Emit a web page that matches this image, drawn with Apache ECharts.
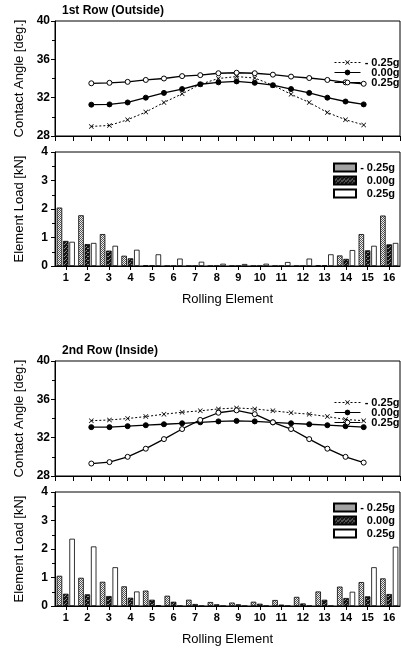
<!DOCTYPE html>
<html>
<head>
<meta charset="utf-8">
<script src="https://cdn.jsdelivr.net/npm/echarts@6/dist/echarts.min.js"></script>
<style>
html,body{margin:0;padding:0;background:#fff;}
#chart{width:401px;height:649px;}
</style>
</head>
<body>
<div id="chart"></div>
<script>
// ---------- data ----------
const elements = [1,2,3,4,5,6,7,8,9,10,11,12,13,14,15,16];
const seriesLabels = ['- 0.25g', '0.00g', '0.25g'];
const titles = ['1st Row (Outside)', '2nd Row (Inside)'];
const angleTicks = [28, 32, 36, 40];
const loadTicks = [0, 1, 2, 3, 4];

// 1st row contact angle [deg.]
const row1AngleM025 = [29.0, 29.1, 29.7, 30.5, 31.5, 32.4, 33.4, 34.0, 34.2, 34.05, 33.3, 32.35, 31.5, 30.45, 29.7, 29.15];
const row1Angle000  = [31.27, 31.3, 31.5, 32.0, 32.5, 32.9, 33.4, 33.6, 33.7, 33.55, 33.3, 32.9, 32.5, 32.0, 31.6, 31.3];
const row1Angle025  = [33.5, 33.55, 33.65, 33.85, 34.0, 34.25, 34.35, 34.55, 34.6, 34.55, 34.4, 34.2, 34.05, 33.85, 33.6, 33.45];
// 1st row element load [kN]
const row1LoadM025 = [2.05, 1.78, 1.12, 0.36, 0.02, 0.0, 0.0, 0.0, 0.0, 0.0, 0.0, 0.0, 0.02, 0.37, 1.12, 1.77];
const row1Load000  = [0.88, 0.77, 0.54, 0.27, 0.01, 0.0, 0.0, 0.0, 0.0, 0.0, 0.0, 0.0, 0.02, 0.25, 0.55, 0.76];
const row1Load025  = [0.85, 0.81, 0.71, 0.57, 0.41, 0.26, 0.15, 0.08, 0.07, 0.08, 0.14, 0.26, 0.41, 0.56, 0.71, 0.81];

// 2nd row contact angle [deg.]
const row2AngleM025 = [33.77, 33.85, 34.0, 34.2, 34.45, 34.65, 34.8, 35.0, 35.1, 35.0, 34.8, 34.6, 34.45, 34.2, 33.9, 33.77];
const row2Angle000  = [33.1, 33.1, 33.2, 33.3, 33.4, 33.5, 33.6, 33.7, 33.75, 33.7, 33.6, 33.5, 33.4, 33.3, 33.2, 33.1];
const row2Angle025  = [29.3, 29.45, 30.0, 30.85, 31.85, 32.9, 33.85, 34.6, 34.85, 34.45, 33.6, 32.9, 31.85, 30.85, 30.0, 29.4];
// 2nd row element load [kN]
const row2LoadM025 = [1.06, 0.99, 0.85, 0.69, 0.54, 0.36, 0.22, 0.14, 0.12, 0.15, 0.21, 0.32, 0.51, 0.68, 0.84, 0.97];
const row2Load000  = [0.43, 0.41, 0.35, 0.29, 0.22, 0.15, 0.07, 0.06, 0.06, 0.08, 0.05, 0.09, 0.22, 0.28, 0.34, 0.42];
const row2Load025  = [2.36, 2.09, 1.36, 0.51, 0.02, 0.0, 0.0, 0.0, 0.0, 0.0, 0.0, 0.0, 0.0, 0.50, 1.36, 2.08];

// ---------- styling helpers ----------
const FONT = 'Liberation Sans, Arial, sans-serif';
function makePattern(bg, fg, cells) {
  const c = document.createElement('canvas');
  c.width = 4; c.height = 4;
  const ctx = c.getContext('2d');
  ctx.fillStyle = bg; ctx.fillRect(0, 0, 4, 4);
  ctx.fillStyle = fg;
  cells.forEach(p => ctx.fillRect(p[0], p[1], 1, 1));
  return { image: c, repeat: 'repeat' };
}
const lightPat = makePattern('#f0f0f0', '#555', [[0,0],[2,0],[1,1],[3,1],[0,2],[2,2],[1,3],[3,3]]);
const darkPat = makePattern('#151515', '#8a8a8a', [[0,0],[2,2],[3,0],[1,3]]);
const xSymbol = 'path://M0,1L1,0L5,4L9,0L10,1L6,5L10,9L9,10L5,6L1,10L0,9L4,5Z';

const pairs = arr => elements.map((e, i) => [e, arr[i]]);
const catLabels = elements.map(String);

const gridTops = [21, 152, 361, 492];
const grids = gridTops.map((t, i) => ({
  left: 55, width: 345, top: t, height: (i % 2 === 0) ? 115 : 114,
  show: true, borderColor: '#000', borderWidth: 1, backgroundColor: 'transparent'
}));

const axisLineStyle = { show: true, onZero: false, lineStyle: { color: '#000', width: 1 } };
const labelStyle = { color: '#000', fontSize: 11, fontWeight: 'bold', fontFamily: FONT };
const yLabelStyle = { color: '#000', fontSize: 12, fontWeight: 'bold', fontFamily: FONT };
const nameStyle = { color: '#000', fontSize: 13, fontFamily: FONT };

function lineX(gi) {
  return {
    type: 'value', gridIndex: gi, min: -1, max: 18, interval: 1,
    axisLine: axisLineStyle,
    axisTick: { show: true, length: 5, lineStyle: { color: '#000' } },
    axisLabel: { show: false }, splitLine: { show: false }
  };
}
function barX(gi) {
  return {
    type: 'category', gridIndex: gi, data: catLabels, boundaryGap: true,
    axisLine: axisLineStyle,
    axisTick: { show: true, alignWithLabel: true, length: 4, lineStyle: { color: '#000' } },
    axisLabel: Object.assign({ margin: 6 }, labelStyle),
    name: 'Rolling Element', nameLocation: 'middle', nameGap: 27, nameTextStyle: nameStyle,
    splitLine: { show: false }
  };
}
function angleY(gi) {
  return {
    type: 'value', gridIndex: gi, min: angleTicks[0], max: angleTicks[angleTicks.length - 1],
    interval: angleTicks[1] - angleTicks[0],
    axisLine: axisLineStyle,
    axisTick: { show: true, length: 4, lineStyle: { color: '#000' } },
    minorTick: { show: true, splitNumber: 2, length: 3, lineStyle: { color: '#000' } },
    axisLabel: Object.assign({ margin: 5 }, yLabelStyle),
    splitLine: { show: false },
    name: 'Contact Angle [deg.]', nameLocation: 'middle', nameGap: 29, nameTextStyle: nameStyle
  };
}
function loadY(gi) {
  return {
    type: 'value', gridIndex: gi, min: loadTicks[0], max: loadTicks[loadTicks.length - 1],
    interval: loadTicks[1] - loadTicks[0],
    axisLine: axisLineStyle,
    axisTick: { show: true, length: 4, lineStyle: { color: '#000' } },
    minorTick: { show: true, splitNumber: 2, length: 3, lineStyle: { color: '#000' } },
    axisLabel: Object.assign({ margin: 7 }, yLabelStyle),
    splitLine: { show: false },
    name: 'Element Load [kN]', nameLocation: 'middle', nameGap: 29, nameTextStyle: nameStyle
  };
}

const lineNames = ['L' + seriesLabels[0], 'L' + seriesLabels[1], 'L' + seriesLabels[2]];
const barNames = ['B' + seriesLabels[0], 'B' + seriesLabels[1], 'B' + seriesLabels[2]];

function lineSeries(gi, m025, z000, p025) {
  return [
    { name: lineNames[0], type: 'line', xAxisIndex: gi, yAxisIndex: gi, data: pairs(m025),
      symbol: xSymbol, symbolSize: 5, showAllSymbol: true,
      lineStyle: { color: '#000', width: 1, type: [2, 2] },
      itemStyle: { color: '#000' }, animation: false },
    { name: lineNames[1], type: 'line', xAxisIndex: gi, yAxisIndex: gi, data: pairs(z000),
      symbol: 'circle', symbolSize: 5, showAllSymbol: true,
      lineStyle: { color: '#000', width: 1.3 },
      itemStyle: { color: '#000', borderColor: '#000', borderWidth: 1 }, animation: false },
    { name: lineNames[2], type: 'line', xAxisIndex: gi, yAxisIndex: gi, data: pairs(p025),
      symbol: 'circle', symbolSize: 5, showAllSymbol: true,
      lineStyle: { color: '#000', width: 1.3 },
      itemStyle: { color: '#fff', borderColor: '#000', borderWidth: 1 }, animation: false }
  ];
}
function barSeries(gi, m025, z000, p025) {
  const common = { type: 'bar', xAxisIndex: gi, yAxisIndex: gi, barWidth: 5.5, barGap: '15%', animation: false };
  return [
    Object.assign({ name: barNames[0], data: m025, itemStyle: { color: lightPat, borderColor: '#000', borderWidth: 0.8 } }, common),
    Object.assign({ name: barNames[1], data: z000, itemStyle: { color: darkPat, borderColor: '#000', borderWidth: 0.8 } }, common),
    Object.assign({ name: barNames[2], data: p025, itemStyle: { color: '#fff', borderColor: '#000', borderWidth: 0.8 } }, common)
  ];
}

const legendText = {
  fontSize: 11, fontWeight: 'bold', fontFamily: FONT, color: '#000', lineHeight: 9,
  rich: { t: { width: 34, align: 'right', fontSize: 11, fontWeight: 'bold', fontFamily: FONT, color: '#000', lineHeight: 9 } }
};
const legendFmt = name => '{t|' + name.slice(1) + '}';

function lineLegend(top) {
  return { data: lineNames, orient: 'vertical', left: 334, top: top, itemWidth: 26, itemHeight: 6,
    itemGap: -1, textStyle: legendText, formatter: legendFmt, selectedMode: false, padding: 0,
    lineStyle: { width: 1 }, itemStyle: { borderWidth: 1 } };
}
function barLegend(top) {
  return { data: barNames.map(n => ({ name: n, icon: 'rect' })), orient: 'vertical', left: 333, top: top,
    itemWidth: 22, itemHeight: 8, itemGap: 2, textStyle: legendText, formatter: legendFmt,
    selectedMode: false, padding: 0 };
}

const chart = echarts.init(document.getElementById('chart'), null, { renderer: 'canvas' });
chart.setOption({
  animation: false,
  backgroundColor: '#fff',
  title: [
    { text: titles[0], left: 62, top: 5, textStyle: { fontSize: 12, fontWeight: 'bold', fontFamily: FONT, color: '#000' }, padding: 0 },
    { text: titles[1], left: 62, top: 345, textStyle: { fontSize: 12, fontWeight: 'bold', fontFamily: FONT, color: '#000' }, padding: 0 }
  ],
  legend: [lineLegend(57), barLegend(162), lineLegend(397), barLegend(502)],
  grid: grids,
  xAxis: [lineX(0), barX(1), lineX(2), barX(3)],
  yAxis: [angleY(0), loadY(1), angleY(2), loadY(3)],
  series: [].concat(
    lineSeries(0, row1AngleM025, row1Angle000, row1Angle025),
    barSeries(1, row1LoadM025, row1Load000, row1Load025),
    lineSeries(2, row2AngleM025, row2Angle000, row2Angle025),
    barSeries(3, row2LoadM025, row2Load000, row2Load025)
  )
});
</script>
</body>
</html>
